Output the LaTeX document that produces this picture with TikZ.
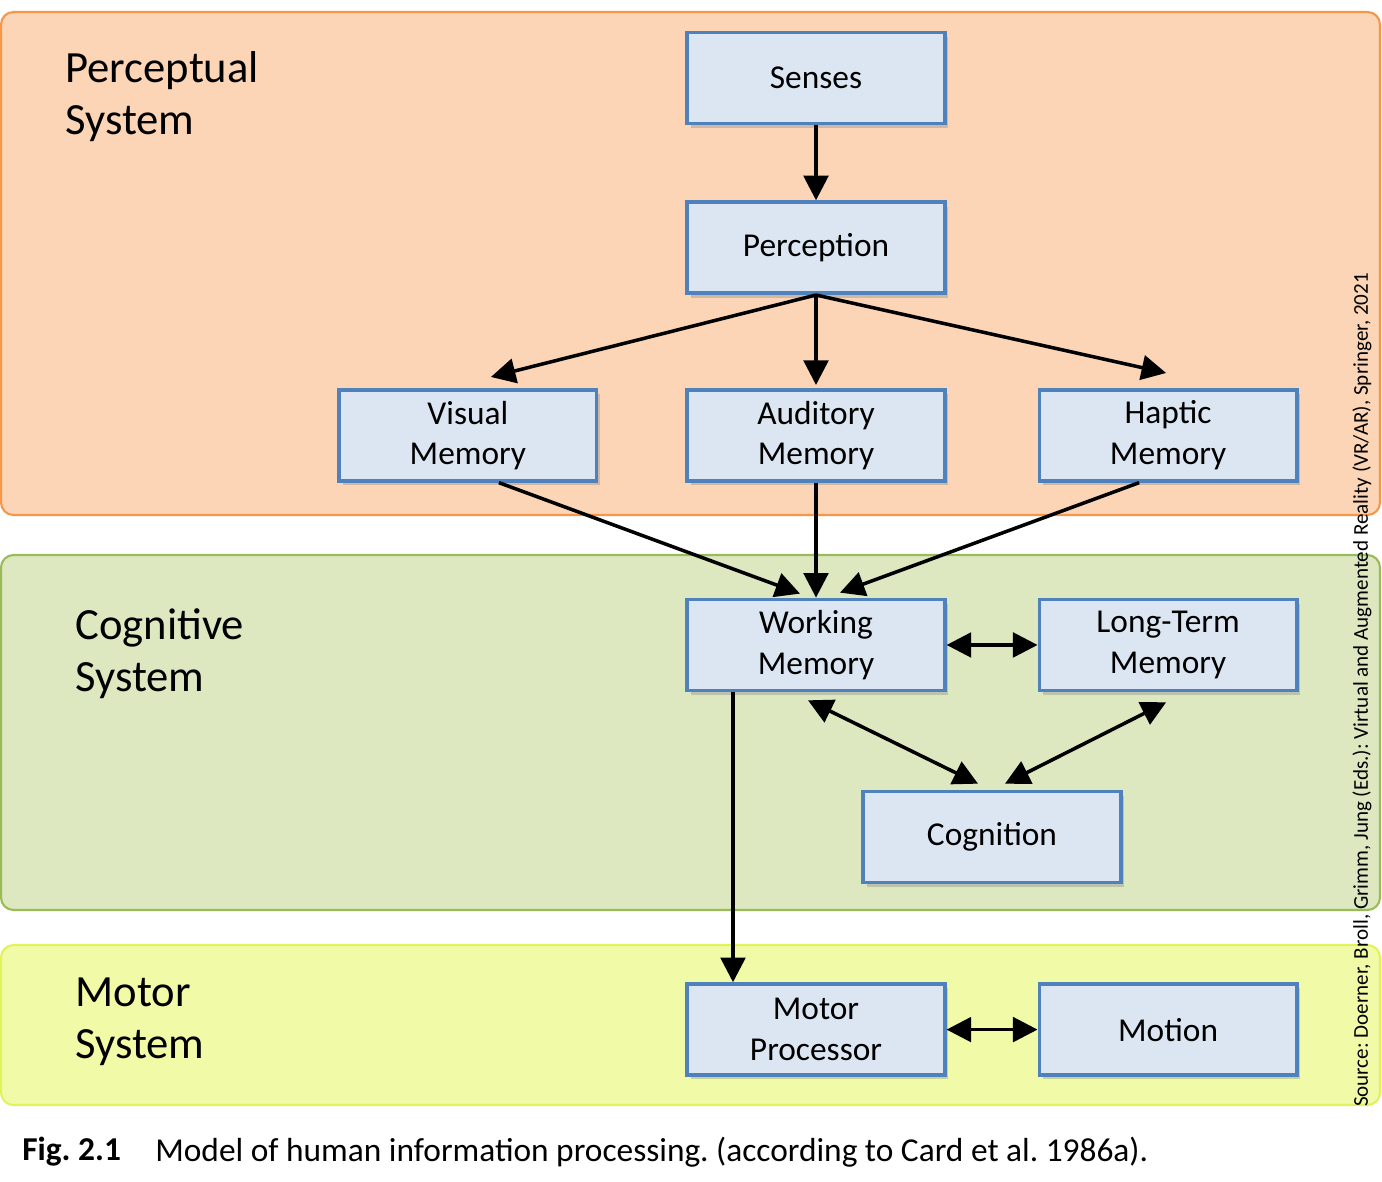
\documentclass[tikz,border=0pt]{standalone}
\usepackage{fontspec}
\setmainfont{Carlito}
\usetikzlibrary{positioning,calc,arrows.meta,shadows}
\frenchspacing

\definecolor{bandorange}{HTML}{FBD5B5}
\definecolor{lineorange}{HTML}{F79646}
\definecolor{bandgreen}{HTML}{DDE8C1}
\definecolor{linegreen}{HTML}{9BBB59}
\definecolor{bandyellow}{HTML}{F1FBA7}
\definecolor{lineyellow}{HTML}{E1F25A}
\definecolor{boxblue}{HTML}{DCE6F2}
\definecolor{lineblue}{HTML}{4F81BD}

\tikzset{
    band/.style={rounded corners=0.25cm, line width=1.2pt},
    stage/.style={draw=lineblue, fill=boxblue, line width=2.1pt,
        minimum width=5.15cm, minimum height=1.82cm, align=center,
        font=\fontsize{19}{23}\selectfont,
        drop shadow={shadow xshift=2pt, shadow yshift=-2.5pt, opacity=0.35}},
    systemlabel/.style={anchor=west, align=left, inner sep=0,
        font=\fontsize{25.4}{29.6}\selectfont},
    flow/.style={line width=2pt, -{Triangle[length=14pt,width=14pt]}},
    both/.style={line width=2pt, {Triangle[length=14pt,width=14pt]}-{Triangle[length=14pt,width=14pt]}}
}

\begin{document}
\begin{tikzpicture}[x=0.02cm, y=-0.02cm]
\useasboundingbox (0,0) rectangle (1382,1181) ;

% the three systems
\draw[band, draw=lineorange, fill=bandorange] (1,12) rectangle (1380,515) ;
\draw[band, draw=linegreen, fill=bandgreen] (1,555) rectangle (1380,910) ;
\draw[band, draw=lineyellow, fill=bandyellow] (1,945) rectangle (1380,1105) ;

\node[systemlabel] (perclabel) at (65,97) {Perceptual\\System} ;
\node[systemlabel] (coglabel) at (75,654) {Cognitive\\System} ;
\node[systemlabel] (motlabel) at (75,1022) {Motor\\System} ;

% stages
\node[stage] (senses) at (816,78) {Senses} ;
\node[stage, below=1.5cm of senses] (perception) {Perception} ;
\node[stage, below=1.86cm of perception] (auditory) {Auditory\\Memory} ;
\node[stage, left=1.74cm of auditory] (visual) {Visual\\Memory} ;
\node[stage, right=1.82cm of auditory] (haptic) {Haptic\\Memory} ;
\node[stage, below=2.3cm of auditory] (working) {Working\\Memory} ;
\node[stage, right=1.82cm of working] (longterm) {Long-Term\\Memory} ;
\node[stage] (cognition) at (992,837) {Cognition} ;
\node[stage, below=5.8cm of working] (motor) {Motor\\Processor} ;
\node[stage, right=1.82cm of motor] (motion) {Motion} ;

% connectors
\draw[flow] (senses.south) -- (perception.north) ;
\draw[flow] (perception.south) -- ([shift={(23,-11)}]visual.north) ;
\draw[flow] (perception.south) -- ([shift={(0,-3)}]auditory.north) ;
\draw[flow] (perception.south) -- ([shift={(-2,-15)}]haptic.north) ;
\draw[flow] ([shift={(31,0)}]visual.south) -- ([shift={(-16,-4)}]working.north) ;
\draw[flow] (auditory.south) -- (working.north) ;
\draw[flow] ([shift={(-29,0)}]haptic.south) -- ([shift={(24,-5)}]working.north) ;
\draw[both] (working.east) -- (longterm.west) ;
\draw[both] ([shift={(-8,8)}]working.south) -- ([shift={(-14,-6)}]cognition.north) ;
\draw[both] ([shift={(-2,10)}]longterm.south) -- ([shift={(13,-6)}]cognition.north) ;
\draw[flow] ([shift={(-83,0)}]working.south) -- ([shift={(-83,0)}]motor.north) ;
\draw[both] (motor.east) -- (motion.west) ;

% caption and source
\node[anchor=west, inner sep=0, font=\fontsize{19}{22}\selectfont\bfseries] (fignum) at (22,1152) {Fig. 2.1} ;
\node[anchor=west, inner sep=0, font=\fontsize{19}{22}\selectfont] (caption) at (155,1152)
    {Model of human information processing. (according to Card et al. 1986a).} ;
\node[rotate=90, inner sep=0, font=\fontsize{12}{14}\selectfont] (source) at (1362,690)
    {Source: Doerner, Broll, Grimm, Jung (Eds.): Virtual and Augmented Reality (VR/AR), Springer, 2021} ;
\end{tikzpicture}
\end{document}
